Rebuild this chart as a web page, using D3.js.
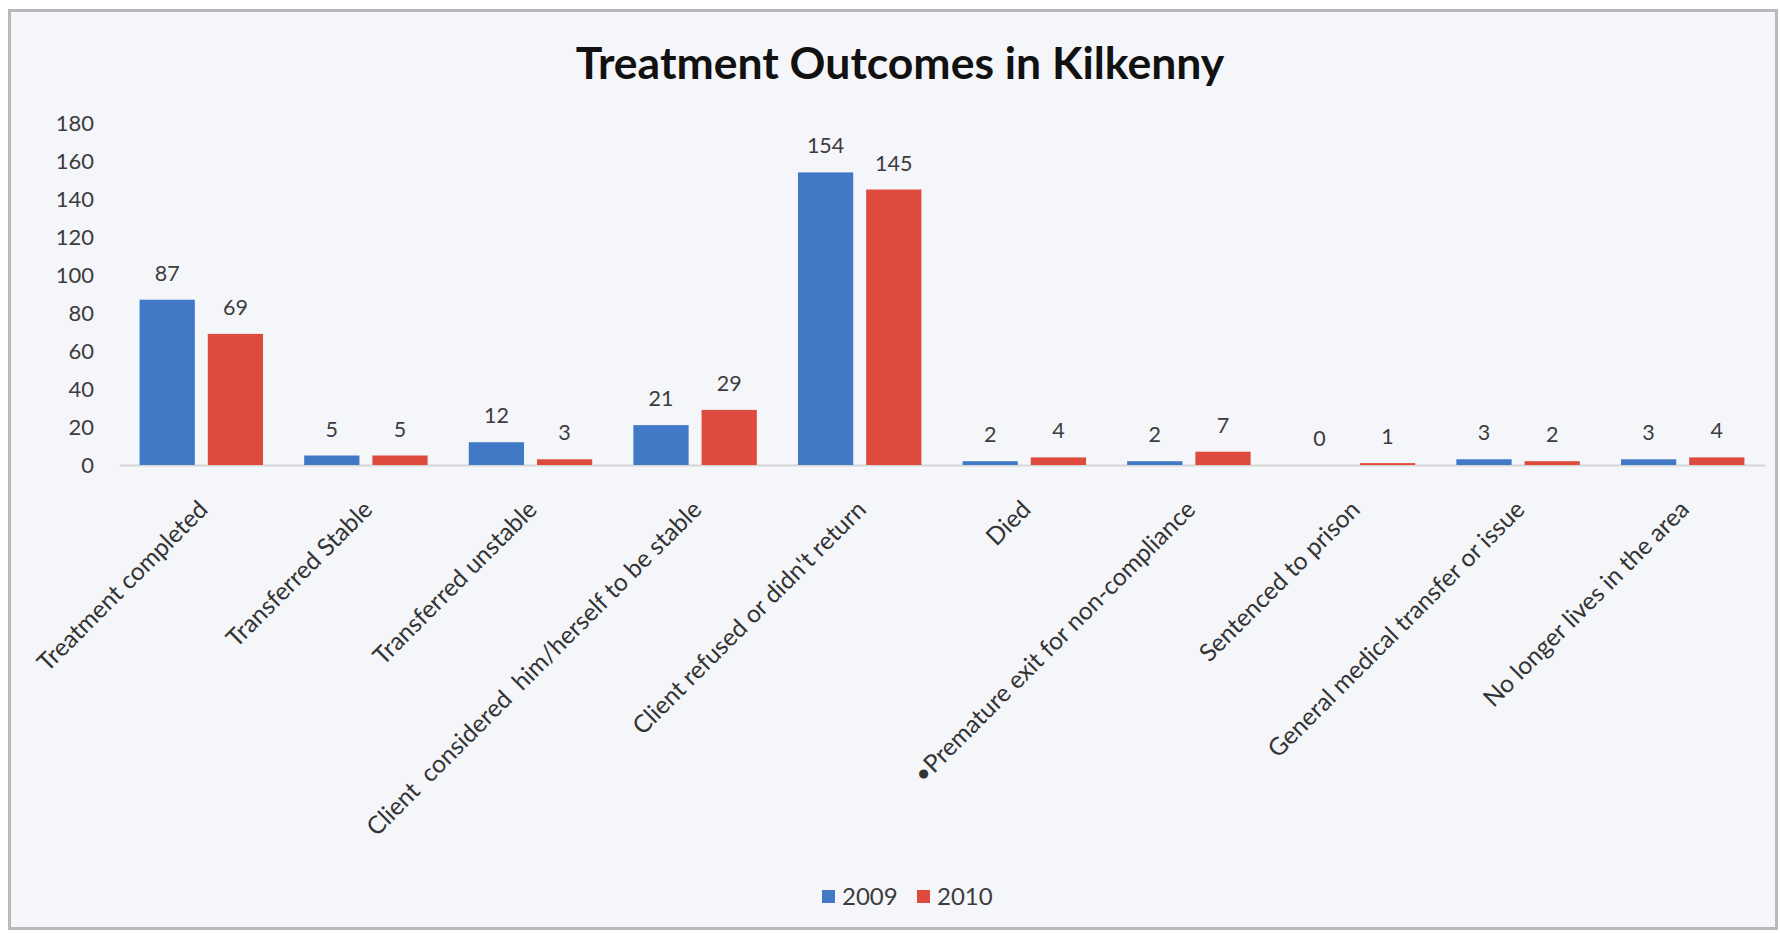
<!DOCTYPE html>
<html><head><meta charset="utf-8">
<script src="https://cdn.jsdelivr.net/npm/d3@7"></script>
<style>
html,body{margin:0;padding:0;background:#ffffff;}
svg{display:block;}
text{font-family:Lato,"Open Sans",sans-serif;}
</style></head>
<body><svg id="chart" width="1780" height="933"></svg>
<script>
const categories = ["Treatment completed","Transferred Stable","Transferred unstable","Client  considered  him/herself to be stable","Client refused or didn't return","Died","\u2022Premature exit for non-compliance","Sentenced to prison","General medical transfer or issue","No longer lives in the area"];
const series = ["2009","2010"];
const values2009 = [87,5,12,21,154,2,2,0,3,3];
const values2010 = [69,5,3,29,145,4,7,1,2,4];
const yTicks = [0,20,40,60,80,100,120,140,160,180];
const title = "Treatment Outcomes in Kilkenny";
const colors = {"2009":"#4279c6","2010":"#de4a3d"};

const svg = d3.select("#chart");
svg.append("rect").attr("x",9.5).attr("y",10.5).attr("width",1767).attr("height",918)
  .attr("fill","#f4f6fa").attr("stroke","#bcb7bc").attr("stroke-width",3);

svg.append("text").attr("x",900).attr("y",79).attr("text-anchor","middle")
  .attr("font-size",44.5).attr("font-weight","bold").attr("fill","#111").text(title);

const x0 = d3.scaleBand().domain(categories).range([119,1765]).paddingInner(0.25).paddingOuter(0.125);
const x1 = d3.scaleBand().domain(series).range([0,x0.bandwidth()]).paddingInner(0.19);
const y = d3.scaleLinear().domain([0,180]).range([465,123]);

// y axis labels
const yAxis = d3.axisLeft(y).tickValues(yTicks).tickSize(0).tickPadding(0);
const gy = svg.append("g").attr("transform","translate(94,0)").call(yAxis);
gy.select(".domain").remove();
gy.selectAll("text").attr("font-size",22).attr("fill","#3c3c3c").attr("font-family","Lato,sans-serif").attr("dy","0.35em");

// baseline
const gx = svg.append("g").attr("transform","translate(0,465)")
  .call(d3.axisBottom(x0).tickSize(0).tickFormat(""));
gx.select(".domain").attr("stroke","#d6d6d6").attr("stroke-width",2);

const data = categories.map((c,i)=>({cat:c, vals:[{s:"2009",v:values2009[i]},{s:"2010",v:values2010[i]}]}));
const groups = svg.append("g").selectAll("g").data(data).join("g")
  .attr("transform",d=>`translate(${x0(d.cat)},0)`);
groups.selectAll("rect").data(d=>d.vals).join("rect")
  .attr("x",d=>x1(d.s)).attr("width",x1.bandwidth())
  .attr("y",d=>y(d.v)).attr("height",d=>Math.max(0,y(0)-y(d.v)))
  .attr("fill",d=>colors[d.s]);
groups.selectAll("text.val").data(d=>d.vals).join("text").attr("class","val")
  .attr("x",d=>x1(d.s)+x1.bandwidth()/2).attr("y",d=>y(d.v)-19)
  .attr("text-anchor","middle").attr("font-size",21.5).attr("fill","#3c3c3c").text(d=>d.v);

// category labels
svg.append("g").selectAll("text").data(categories).join("text")
  .attr("transform",d=>`translate(${x0(d)+x0.bandwidth()/2+8},511) rotate(-45)`)
  .attr("text-anchor","end").attr("font-size",24.5).attr("fill","#333")
  .attr("xml:space","preserve").style("white-space","pre").text(d=>d);

// legend
const lg = svg.append("g").attr("transform","translate(822,897)");
series.forEach((s,i)=>{
  const g = lg.append("g").attr("transform",`translate(${i*95},0)`);
  g.append("rect").attr("x",0).attr("y",-7).attr("width",13).attr("height",13).attr("fill",colors[s]);
  g.append("text").attr("x",20).attr("y",0).attr("dy","0.35em").attr("font-size",24).attr("fill","#3c3c3c").text(s);
});
</script></body></html>
